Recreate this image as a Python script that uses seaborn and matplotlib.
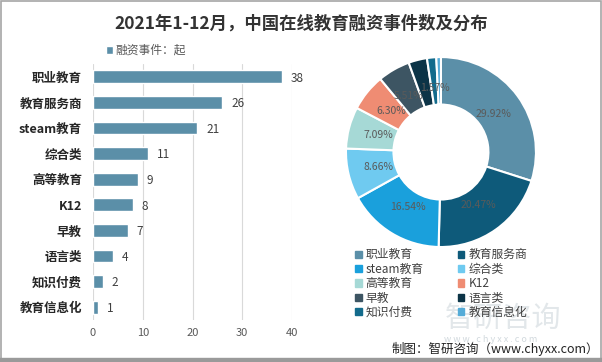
import matplotlib
matplotlib.use("Agg")
import matplotlib.pyplot as plt
import matplotlib.patches as mpatches
import seaborn as sns
import pandas as pd
import numpy as np

categories = ["职业教育", "教育服务商", "steam教育", "综合类", "高等教育",
              "K12", "早教", "语言类", "知识付费", "教育信息化"]
events = [38, 26, 21, 11, 9, 8, 7, 4, 2, 1]
pie_colors = ["#5b8fa8", "#0e5a7a", "#1aa0dc", "#6fcaf0", "#a6d9d6",
              "#ef8c73", "#3d5563", "#0c3447", "#136b8c", "#55acd8"]
shown_pct = ["29.92%", "20.47%", "16.54%", "8.66%", "7.09%",
             "6.30%", "5.51%", "", "1.57%", ""]

sns.set_theme(style="whitegrid")
plt.rcParams['font.family'] = ['Noto Sans CJK SC', 'DejaVu Sans']

df = pd.DataFrame({"cat": categories, "n": events})

fig = plt.figure(figsize=(6.02, 3.62), dpi=100)
fig.patch.set_facecolor("white")

# bar chart
ax = fig.add_axes([0.1545, 0.116, 0.3306, 0.707])
sns.barplot(data=df, x="n", y="cat", color="#5b8fa8", width=0.5, ax=ax,
            label="融资事件：起", saturation=1)
ax.set_xlim(0, 40)
ax.set_xticks([0, 10, 20, 30, 40])
ax.set_xlabel("")
ax.set_ylabel("")
ax.grid(axis="y", visible=False)
ax.grid(axis="x", color="#d9d9d9", linewidth=0.8)
for s in ax.spines.values():
    s.set_visible(False)
ax.tick_params(axis="x", labelsize=8, colors="#595959", length=0, pad=6)
ax.tick_params(axis="y", length=0, pad=8)
for t in ax.get_yticklabels():
    t.set_fontweight("bold")
    t.set_fontsize(9)
    t.set_color("#262626")
for i, v in enumerate(events):
    ax.text(v + 1.8, i + 0.05, str(v), va="center", ha="left", fontsize=8.5, color="#404040")
ax.legend(loc="lower left", bbox_to_anchor=(0.03, 1.0), frameon=False, fontsize=8.5,
          handlelength=0.6, handleheight=0.6, handletextpad=0.2, borderaxespad=0.2,
          labelcolor="#595959")

# donut
pax = fig.add_axes([0.573, 0.315, 0.319, 0.530])
wedges, _ = pax.pie(events, colors=pie_colors, startangle=90, counterclock=False,
                    radius=1.0, wedgeprops=dict(width=0.5, edgecolor="white", linewidth=1.5))
total = sum(events)
ang = 90.0
for w, lab, v in zip(wedges, shown_pct, events):
    mid = np.deg2rad(ang - v / total * 180.0)
    ang -= v / total * 360.0
    if lab:
        pax.text(0.68 * np.cos(mid), 0.68 * np.sin(mid), lab, ha="center", va="center",
                 fontsize=7.5, color="#5a5a5a")
pax.set_xlim(-1.01, 1.01)
pax.set_ylim(-1.01, 1.01)
pax.set_aspect("equal")

# legend filled row by row like the reference
order = [0, 2, 4, 6, 8, 1, 3, 5, 7, 9]
handles = [mpatches.Patch(color=pie_colors[i], label=categories[i]) for i in order]
fig.legend(handles=handles, ncol=2, loc="upper left", bbox_to_anchor=(0.582, 0.327),
           frameon=False, fontsize=8.5, handlelength=0.55, handleheight=0.55,
           handletextpad=0.35, columnspacing=2.9, labelspacing=0.12, labelcolor="#404040",
           borderaxespad=0)

# title & source
fig.text(0.5, 0.935, "2021年1-12月，中国在线教育融资事件数及分布", ha="center", va="center",
         fontsize=12.5, fontweight="bold", color="#333333")
fig.text(0.835, 0.12, "智研咨询", ha="center", va="center", fontsize=21,
         color="#9aaab5", alpha=0.28)
fig.text(0.815, 0.062, "w w w . c h y x x . c o m", ha="center", va="center", fontsize=6.5,
         color="#9aaab5", alpha=0.45)
fig.text(0.995, 0.035, "制图：智研咨询（www.chyxx.com）", ha="right", va="center",
         fontsize=9, color="#222222")

fig.patches.append(mpatches.Rectangle((0.001, 0.003), 0.997, 0.994, transform=fig.transFigure,
                                      fill=False, edgecolor="#a6a6a6", linewidth=1.2))
fig.patches.append(mpatches.Rectangle((0.0, 0.0), 1.0, 0.012, transform=fig.transFigure,
                                      color="#9a9a9a"))

fig.savefig("out.png", dpi=100)
